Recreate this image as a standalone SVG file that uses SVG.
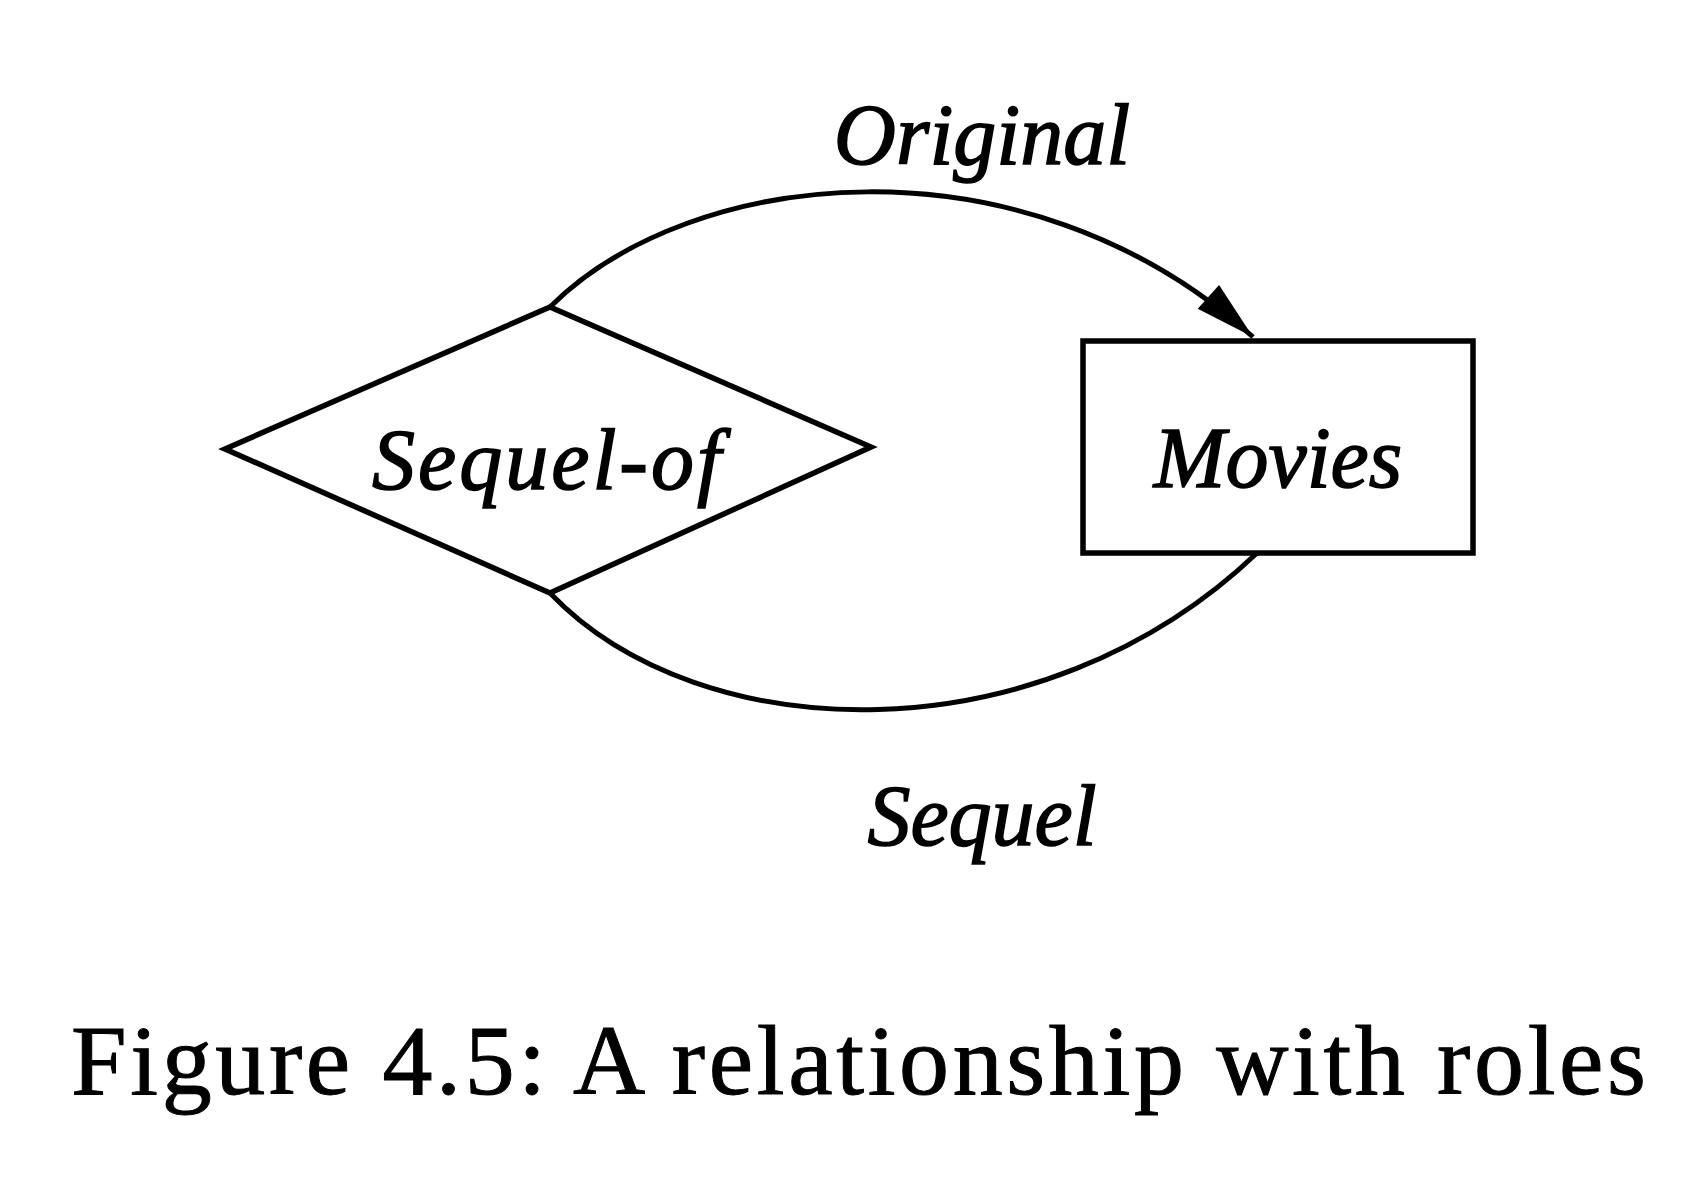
<svg xmlns="http://www.w3.org/2000/svg" width="1706" height="1186" viewBox="0 0 1706 1186">
<style>
.shape{fill:none;stroke:#000;stroke-width:5.5;stroke-linejoin:miter}
.conn{fill:none;stroke:#000;stroke-width:5}
.lbl{font-family:"Liberation Serif","Times New Roman",serif;font-style:italic;font-size:86px;fill:#000;stroke:#000;stroke-width:1.5}
.cap{font-family:"Liberation Serif","Times New Roman",serif;font-size:100px;fill:#000;stroke:#000;stroke-width:1}
</style>
<defs>
<marker id="arrow" markerUnits="userSpaceOnUse" markerWidth="70" markerHeight="40" viewBox="-62 -20 64 40" refX="0" refY="0" orient="auto">
<path d="M0,0 L-60,-16 L-60,16 z" fill="#000"/>
</marker>
</defs>
<rect width="1706" height="1186" fill="#fff"/>
<g id="connectors">
<path id="original-role" class="conn" d="M550,307 C690,167 1023,130 1253,337" marker-end="url(#arrow)"/>
<path id="sequel-role" class="conn" d="M550,593 C700,750 1040,760 1257,553"/>
<text class="lbl" x="982" y="164" text-anchor="middle">Original</text>
<text class="lbl" x="982" y="845" text-anchor="middle">Sequel</text>
</g>
<g id="sequel-of">
<polygon class="shape" points="225,449 550,307 871,447 550,593"/>
<text class="lbl" x="548" y="489" text-anchor="middle" letter-spacing="3">Sequel-of</text>
</g>
<g id="movies">
<rect class="shape" x="1083" y="341" width="390" height="212"/>
<text class="lbl" x="1278" y="487" text-anchor="middle">Movies</text>
</g>
<g id="caption">
<text class="cap" x="71" y="1094" textLength="1575" lengthAdjust="spacing">Figure 4.5: A relationship with roles</text>
</g>
</svg>
